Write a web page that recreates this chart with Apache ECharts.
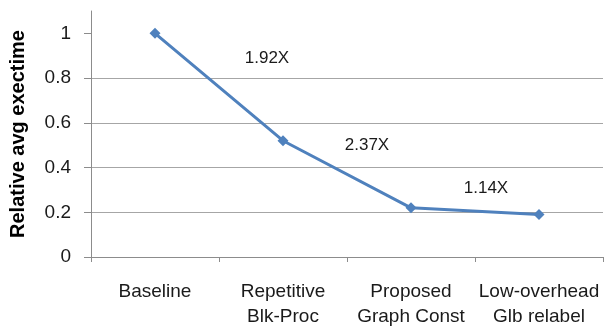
<!DOCTYPE html>
<html>
<head>
<meta charset="utf-8">
<script src="https://cdn.jsdelivr.net/npm/echarts@6/dist/echarts.min.js"></script>
<style>
  html, body { margin: 0; padding: 0; background: #fff; }
  #chart { width: 605px; height: 326px; }
</style>
</head>
<body>
<div id="chart"></div>
<script>
// data
var categories = ['Baseline', 'Repetitive\nBlk-Proc', 'Proposed\nGraph Const', 'Low-overhead\nGlb relabel'];
var execTime = [1, 0.52, 0.22, 0.19];
var yTicks = [0, 0.2, 0.4, 0.6, 0.8, 1];
var speedups = ['1.92X', '2.37X', '1.14X'];

var chart = echarts.init(document.getElementById('chart'));
var font = 'Liberation Sans, Arial, sans-serif';

// speedup labels sit between the points
function noteText(txt, x, y) {
  return {
    type: 'text', x: x, y: y,
    style: { text: txt, font: '17px ' + font, fill: '#1a1a1a', textAlign: 'center', textVerticalAlign: 'middle' }
  };
}

chart.setOption({
  animation: false,
  grid: { left: 91, right: 2, top: 11, bottom: 69, outerBoundsMode: 'none', containLabel: false },
  xAxis: {
    type: 'category',
    data: categories,
    boundaryGap: true,
    axisLine: { lineStyle: { color: '#8c8c8c', width: 1 } },
    axisTick: { show: true, length: 5, lineStyle: { color: '#8c8c8c' } },
    axisLabel: { color: '#1a1a1a', fontFamily: font, fontSize: 19, margin: 22, lineHeight: 25, interval: 0 }
  },
  yAxis: {
    type: 'value',
    min: 0,
    max: 1.1,
    interval: 0.2,
    name: 'Relative avg exectime',
    nameLocation: 'middle',
    nameGap: 63,
    nameTextStyle: { color: '#000', fontFamily: font, fontSize: 20, fontWeight: 'bold' },
    axisLine: { show: true, lineStyle: { color: '#8c8c8c', width: 1 } },
    axisTick: { show: true, length: 7, customValues: yTicks, lineStyle: { color: '#8c8c8c' } },
    axisLabel: { color: '#1a1a1a', fontFamily: font, fontSize: 19, margin: 20, customValues: yTicks },
    splitLine: { show: true, showMaxLine: false, lineStyle: { color: '#a6a6a6', width: 1 } }
  },
  series: [{
    type: 'line',
    data: execTime,
    symbol: 'diamond',
    symbolSize: 11,
    lineStyle: { color: '#4f81bd', width: 3 },
    itemStyle: { color: '#4f81bd' }
  }],
  graphic: [
    noteText(speedups[0], 267, 58),
    noteText(speedups[1], 367, 145),
    noteText(speedups[2], 486, 188)
  ]
});
</script>
</body>
</html>
